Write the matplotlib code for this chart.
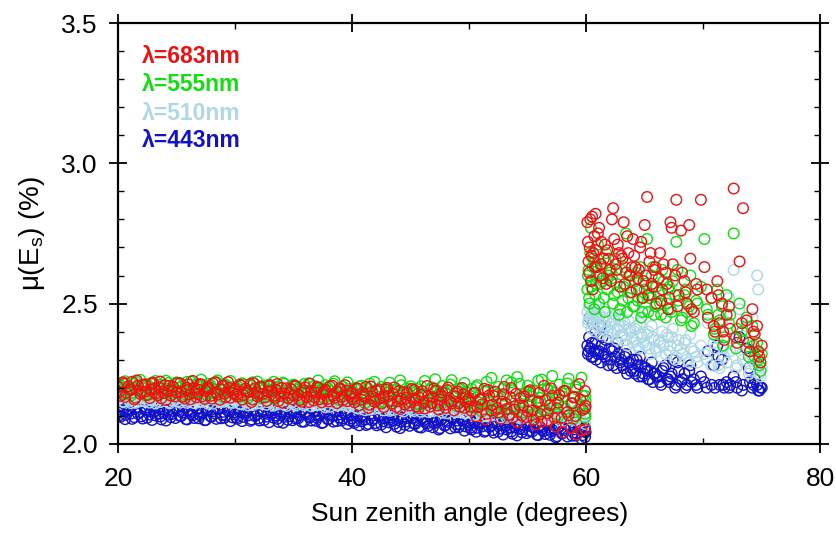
import matplotlib
matplotlib.use("Agg")
from matplotlib import pyplot as plt
from matplotlib.ticker import MultipleLocator

plt.rcParams['font.family'] = ['Liberation Sans', 'DejaVu Sans']

# sun zenith angles, below 60 deg (two passes)
angle_low = [
    20.0, 20.2, 20.5, 20.7, 21.0, 21.2, 21.5, 21.7, 22.0, 22.3,
    22.5, 22.8, 23.0, 23.2, 23.5, 23.7, 24.0, 24.3, 24.5, 24.7,
    25.0, 25.3, 25.5, 25.8, 26.0, 26.2, 26.5, 26.8, 27.0, 27.2,
    27.5, 27.7, 28.0, 28.3, 28.5, 28.8, 29.0, 29.2, 29.5, 29.8,
    30.0, 30.2, 30.5, 30.7, 31.0, 31.3, 31.5, 31.7, 32.0, 32.2,
    32.5, 32.8, 33.0, 33.3, 33.5, 33.7, 34.0, 34.2, 34.5, 34.8,
    35.0, 35.2, 35.5, 35.7, 36.0, 36.3, 36.5, 36.8, 37.0, 37.2,
    37.5, 37.7, 38.0, 38.3, 38.5, 38.7, 39.0, 39.2, 39.5, 39.8,
    40.0, 40.2, 40.5, 40.8, 41.0, 41.2, 41.5, 41.7, 42.0, 42.3,
    42.5, 42.7, 43.0, 43.2, 43.5, 43.8, 44.0, 44.2, 44.5, 44.7,
    45.0, 45.3, 45.5, 45.7, 46.0, 46.2, 46.5, 46.8, 47.0, 47.3,
    47.5, 47.7, 48.0, 48.2, 48.5, 48.8, 49.0, 49.2, 49.5, 49.7,
    50.0, 50.2, 50.5, 50.7, 51.0, 51.3, 51.5, 51.7, 52.0, 52.2,
    52.5, 52.8, 53.0, 53.2, 53.5, 53.7, 54.0, 54.3, 54.5, 54.7,
    55.0, 55.2, 55.5, 55.8, 56.0, 56.2, 56.5, 56.7, 57.0, 57.3,
    57.5, 57.7, 58.0, 58.2, 58.5, 58.8, 59.0, 59.2, 59.5, 59.7,
    59.9, 59.9, 59.95,
]
angle_low2 = [
    20.1, 20.4, 20.6, 20.9, 21.1, 21.4, 21.6, 21.9, 22.1, 22.4,
    22.7, 22.9, 23.1, 23.4, 23.6, 23.9, 24.1, 24.4, 24.6, 24.9,
    25.1, 25.4, 25.7, 25.9, 26.1, 26.4, 26.7, 26.9, 27.1, 27.4,
    27.6, 27.9, 28.1, 28.4, 28.7, 28.9, 29.1, 29.4, 29.6, 29.9,
    30.1, 30.4, 30.6, 30.9, 31.1, 31.4, 31.6, 31.9, 32.1, 32.4,
    32.7, 32.9, 33.1, 33.4, 33.6, 33.9, 34.1, 34.4, 34.6, 34.9,
    35.1, 35.4, 35.7, 35.9, 36.1, 36.4, 36.7, 36.9, 37.1, 37.4,
    37.6, 37.9, 38.1, 38.4, 38.7, 38.9, 39.1, 39.4, 39.6, 39.9,
    40.1, 40.4, 40.6, 40.9, 41.1, 41.4, 41.6, 41.9, 42.1, 42.4,
    42.7, 42.9, 43.1, 43.4, 43.6, 43.9, 44.1, 44.4, 44.6, 44.9,
    45.1, 45.4, 45.7, 45.9, 46.1, 46.4, 46.7, 46.9, 47.1, 47.4,
    47.6, 47.9, 48.1, 48.4, 48.7, 48.9, 49.1, 49.4, 49.6, 49.9,
    50.1, 50.4, 50.6, 50.9, 51.1, 51.4, 51.6, 51.9, 52.1, 52.4,
    52.7, 52.9, 53.1, 53.4, 53.6, 53.9, 54.1, 54.4, 54.6, 54.9,
    55.1, 55.4, 55.7, 55.9, 56.1, 56.4, 56.7, 56.9, 57.1, 57.4,
    57.6, 57.9, 58.1, 58.4, 58.7, 58.9, 59.1, 59.4, 59.6, 59.9,
]

# sun zenith angles, 60 deg and above (two passes)
angle_high = [
    60.1, 60.2, 60.3, 60.4, 60.5, 60.6, 60.8, 60.9, 61.0,
    61.2, 61.3, 61.5, 61.7, 61.8, 62.0,
    62.2, 62.3, 62.5, 62.7, 62.9, 63.0,
    63.2, 63.4, 63.6, 63.8, 64.0,
    64.2, 64.4, 64.6, 64.8, 65.0,
    65.2, 65.4, 65.6, 65.8, 66.0,
    66.3, 66.5, 66.8, 67.0,
    67.2, 67.4, 67.7, 67.9, 68.1,
    68.4, 68.6, 68.9, 69.2, 69.5, 69.8,
    70.1, 70.4, 70.7, 71.0,
    71.2, 71.4, 71.6, 71.8, 72.0,
    72.3, 72.6, 72.9, 73.1,
    73.4, 73.7, 74.0,
    74.2, 74.4, 74.6, 74.8, 75.0,
]
angle_high2 = [
    60.15, 60.25, 60.35, 60.45, 60.55, 60.7, 60.75, 60.85,
    61.1, 61.25, 61.4, 61.6, 61.9,
    62.1, 62.4, 62.6, 62.8,
    63.1, 63.3, 63.5, 63.7, 63.9,
    64.1, 64.3, 64.5, 64.7, 64.9,
    65.1, 65.3, 65.5, 65.7, 65.9,
    66.2, 66.4, 66.6, 66.9,
    67.1, 67.3, 67.6, 67.8,
    68.2, 68.5, 68.8, 69.0, 69.4,
    70.3, 70.9, 71.3, 71.7, 72.2, 72.8, 73.3, 73.9,
    74.3, 74.7, 74.9,
]

# mu(Es) in %, 683 nm
red_low = [
    2.203, 2.171, 2.214, 2.182, 2.195, 2.221, 2.164, 2.207, 2.186, 2.212,
    2.174, 2.193, 2.218, 2.179, 2.201, 2.162, 2.209, 2.188, 2.172, 2.204,
    2.183, 2.216, 2.168, 2.191, 2.211, 2.159, 2.198, 2.177, 2.213, 2.169,
    2.189, 2.202, 2.161, 2.219, 2.176, 2.194, 2.208, 2.166, 2.199, 2.181,
    2.196, 2.168, 2.207, 2.174, 2.189, 2.213, 2.158, 2.198, 2.181, 2.204,
    2.165, 2.187, 2.209, 2.171, 2.193, 2.152, 2.199, 2.179, 2.163, 2.194,
    2.172, 2.205, 2.156, 2.183, 2.201, 2.149, 2.188, 2.166, 2.203, 2.159,
    2.178, 2.192, 2.151, 2.207, 2.164, 2.185, 2.197, 2.155, 2.189, 2.170,
    2.182, 2.148, 2.196, 2.157, 2.174, 2.203, 2.139, 2.186, 2.163, 2.194,
    2.143, 2.171, 2.199, 2.152, 2.178, 2.131, 2.188, 2.161, 2.140, 2.181,
    2.149, 2.192, 2.133, 2.166, 2.187, 2.126, 2.171, 2.145, 2.197, 2.137,
    2.158, 2.183, 2.128, 2.201, 2.144, 2.169, 2.186, 2.131, 2.176, 2.151,
    2.163, 2.118, 2.182, 2.131, 2.157, 2.196, 2.107, 2.172, 2.139, 2.186,
    2.112, 2.151, 2.203, 2.124, 2.166, 2.093, 2.178, 2.137, 2.101, 2.169,
    2.116, 2.191, 2.086, 2.148, 2.182, 2.079, 2.155, 2.109, 2.198, 2.092,
    2.127, 2.174, 2.041, 2.189, 2.102, 2.144, 2.167, 2.033, 2.158, 2.121,
    2.188, 2.052, 2.135,
]
red_low2 = [
    2.184, 2.219, 2.167, 2.205, 2.192, 2.158, 2.226, 2.178, 2.210, 2.187,
    2.163, 2.214, 2.196, 2.173, 2.222, 2.181, 2.156, 2.207, 2.190, 2.169,
    2.217, 2.185, 2.161, 2.200, 2.176, 2.224, 2.166, 2.193, 2.211, 2.160,
    2.198, 2.171, 2.215, 2.183, 2.157, 2.206, 2.179, 2.220, 2.164, 2.191,
    2.175, 2.211, 2.158, 2.197, 2.184, 2.149, 2.216, 2.169, 2.202, 2.178,
    2.153, 2.205, 2.187, 2.164, 2.213, 2.171, 2.146, 2.198, 2.181, 2.159,
    2.207, 2.174, 2.150, 2.191, 2.166, 2.214, 2.155, 2.183, 2.200, 2.148,
    2.186, 2.160, 2.204, 2.172, 2.145, 2.195, 2.167, 2.209, 2.152, 2.179,
    2.159, 2.198, 2.137, 2.181, 2.167, 2.128, 2.204, 2.150, 2.189, 2.161,
    2.131, 2.193, 2.170, 2.143, 2.201, 2.152, 2.124, 2.184, 2.163, 2.137,
    2.195, 2.155, 2.127, 2.175, 2.146, 2.206, 2.133, 2.166, 2.188, 2.122,
    2.169, 2.139, 2.191, 2.150, 2.119, 2.180, 2.144, 2.199, 2.128, 2.158,
    2.132, 2.181, 2.098, 2.159, 2.141, 2.087, 2.192, 2.119, 2.170, 2.128,
    2.089, 2.177, 2.145, 2.104, 2.199, 2.122, 2.078, 2.163, 2.136, 2.095,
    2.185, 2.118, 2.069, 2.151, 2.106, 2.207, 2.083, 2.138, 2.171, 2.061,
    2.147, 2.092, 2.188, 2.113, 2.056, 2.165, 2.099, 2.213, 2.048, 2.126,
]
red_high = [
    2.79, 2.65, 2.70, 2.58, 2.81, 2.68, 2.82, 2.63, 2.75,
    2.60, 2.72, 2.66, 2.57, 2.69, 2.62,
    2.80, 2.84, 2.64, 2.71, 2.56, 2.67,
    2.79, 2.61, 2.68, 2.54, 2.73,
    2.63, 2.59, 2.70, 2.52, 2.78,
    2.88, 2.65, 2.57, 2.62, 2.50,
    2.68, 2.55, 2.61, 2.48,
    2.79, 2.64, 2.87, 2.53, 2.76,
    2.58, 2.50, 2.66, 2.47, 2.55, 2.87,
    2.63, 2.45, 2.52, 2.40,
    2.58, 2.43, 2.50, 2.37, 2.46,
    2.41, 2.91, 2.36, 2.65,
    2.84, 2.44, 2.33,
    2.48, 2.39, 2.42, 2.31, 2.35,
]
red_high2 = [
    2.72, 2.61, 2.80, 2.67, 2.55, 2.74, 2.63, 2.69,
    2.77, 2.64, 2.59, 2.71, 2.66,
    2.58, 2.73, 2.62, 2.68,
    2.66, 2.57, 2.74, 2.60, 2.63,
    2.67, 2.55, 2.62, 2.72, 2.58,
    2.60, 2.53, 2.68, 2.56, 2.63,
    2.59, 2.51, 2.64, 2.57,
    2.52, 2.77, 2.60, 2.49,
    2.61, 2.54, 2.78, 2.48, 2.57,
    2.55, 2.42, 2.53, 2.40, 2.49, 2.38, 2.43, 2.36,
    2.40, 2.33, 2.29,
]

# 555 nm
green_low = [
    2.188, 2.209, 2.176, 2.215, 2.197, 2.182, 2.221, 2.190, 2.204, 2.173,
    2.212, 2.185, 2.199, 2.224, 2.178, 2.206, 2.193, 2.217, 2.181, 2.201,
    2.219, 2.187, 2.208, 2.175, 2.196, 2.222, 2.183, 2.211, 2.190, 2.205,
    2.177, 2.214, 2.198, 2.186, 2.226, 2.192, 2.179, 2.210, 2.189, 2.203,
    2.181, 2.205, 2.168, 2.212, 2.190, 2.174, 2.219, 2.183, 2.199, 2.163,
    2.208, 2.177, 2.193, 2.221, 2.169, 2.201, 2.186, 2.214, 2.172, 2.196,
    2.211, 2.178, 2.203, 2.165, 2.189, 2.216, 2.174, 2.206, 2.182, 2.198,
    2.167, 2.209, 2.191, 2.176, 2.223, 2.184, 2.170, 2.204, 2.179, 2.195,
    2.168, 2.199, 2.154, 2.207, 2.178, 2.160, 2.214, 2.171, 2.191, 2.146,
    2.203, 2.163, 2.184, 2.218, 2.152, 2.195, 2.172, 2.209, 2.157, 2.187,
    2.205, 2.161, 2.196, 2.143, 2.179, 2.224, 2.156, 2.201, 2.168, 2.190,
    2.148, 2.206, 2.181, 2.159, 2.227, 2.170, 2.151, 2.198, 2.163, 2.185,
    2.157, 2.196, 2.131, 2.209, 2.163, 2.139, 2.221, 2.148, 2.184, 2.118,
    2.203, 2.142, 2.172, 2.226, 2.125, 2.191, 2.153, 2.214, 2.129, 2.178,
    2.207, 2.133, 2.189, 2.108, 2.164, 2.229, 2.121, 2.197, 2.141, 2.182,
    2.105, 2.211, 2.168, 2.124, 2.232, 2.146, 2.112, 2.193, 2.131, 2.172,
    2.171, 2.094, 2.152,
]
green_low2 = [
    2.206, 2.180, 2.223, 2.191, 2.172, 2.214, 2.199, 2.228, 2.184, 2.207,
    2.176, 2.218, 2.193, 2.171, 2.211, 2.187, 2.225, 2.198, 2.174, 2.216,
    2.189, 2.203, 2.170, 2.221, 2.194, 2.179, 2.213, 2.186, 2.229, 2.200,
    2.173, 2.209, 2.182, 2.220, 2.195, 2.168, 2.212, 2.188, 2.224, 2.177,
    2.199, 2.172, 2.216, 2.184, 2.163, 2.207, 2.191, 2.222, 2.176, 2.200,
    2.167, 2.211, 2.186, 2.160, 2.203, 2.179, 2.218, 2.190, 2.164, 2.208,
    2.181, 2.195, 2.158, 2.213, 2.185, 2.169, 2.205, 2.177, 2.226, 2.192,
    2.161, 2.201, 2.173, 2.214, 2.187, 2.156, 2.204, 2.180, 2.219, 2.166,
    2.186, 2.155, 2.204, 2.169, 2.145, 2.195, 2.177, 2.221, 2.158, 2.189,
    2.149, 2.200, 2.172, 2.141, 2.192, 2.163, 2.226, 2.179, 2.147, 2.197,
    2.166, 2.184, 2.138, 2.205, 2.170, 2.151, 2.193, 2.160, 2.230, 2.176,
    2.140, 2.188, 2.156, 2.211, 2.168, 2.135, 2.196, 2.161, 2.217, 2.145,
    2.171, 2.129, 2.202, 2.147, 2.115, 2.188, 2.158, 2.235, 2.121, 2.176,
    2.110, 2.196, 2.143, 2.103, 2.219, 2.134, 2.238, 2.164, 2.112, 2.185,
    2.139, 2.168, 2.098, 2.225, 2.151, 2.117, 2.192, 2.126, 2.242, 2.158,
    2.096, 2.181, 2.132, 2.215, 2.144, 2.089, 2.203, 2.122, 2.236, 2.107,
]
green_high = [
    2.55, 2.62, 2.50, 2.77, 2.58, 2.66, 2.53, 2.60, 2.71,
    2.57, 2.63, 2.52, 2.68, 2.55, 2.61,
    2.59, 2.50, 2.66, 2.54, 2.48, 2.62,
    2.56, 2.75, 2.52, 2.60, 2.49,
    2.58, 2.51, 2.63, 2.47, 2.55,
    2.73, 2.52, 2.60, 2.46, 2.56,
    2.50, 2.62, 2.45, 2.55,
    2.48, 2.58, 2.72, 2.51, 2.44,
    2.53, 2.47, 2.60, 2.43, 2.50, 2.56,
    2.73, 2.46, 2.52, 2.41,
    2.55, 2.44, 2.49, 2.38, 2.53,
    2.46, 2.75, 2.41, 2.50,
    2.37, 2.45, 2.33,
    2.42, 2.31, 2.36, 2.28, 2.32,
]
green_high2 = [
    2.60, 2.52, 2.68, 2.56, 2.63, 2.48, 2.65, 2.57,
    2.50, 2.64, 2.58, 2.47, 2.60,
    2.62, 2.53, 2.57, 2.46,
    2.51, 2.63, 2.47, 2.58, 2.54,
    2.49, 2.61, 2.55, 2.45, 2.52,
    2.57, 2.47, 2.53, 2.63, 2.49,
    2.54, 2.46, 2.58, 2.50,
    2.56, 2.47, 2.53, 2.62,
    2.45, 2.55, 2.49, 2.42, 2.51,
    2.48, 2.39, 2.46, 2.35, 2.43, 2.34, 2.40, 2.31,
    2.35, 2.30, 2.26,
]

# 510 nm
lblue_low = [
    2.158, 2.171, 2.149, 2.166, 2.153, 2.175, 2.146, 2.162, 2.169, 2.151,
    2.173, 2.156, 2.164, 2.144, 2.168, 2.159, 2.177, 2.148, 2.163, 2.155,
    2.170, 2.147, 2.161, 2.174, 2.152, 2.167, 2.145, 2.160, 2.172, 2.150,
    2.165, 2.143, 2.169, 2.157, 2.176, 2.149, 2.163, 2.154, 2.171, 2.146,
    2.152, 2.166, 2.141, 2.159, 2.147, 2.169, 2.138, 2.155, 2.163, 2.144,
    2.165, 2.149, 2.157, 2.136, 2.160, 2.151, 2.168, 2.139, 2.154, 2.146,
    2.161, 2.137, 2.152, 2.164, 2.142, 2.157, 2.134, 2.150, 2.162, 2.139,
    2.154, 2.131, 2.158, 2.145, 2.163, 2.136, 2.149, 2.141, 2.157, 2.133,
    2.138, 2.153, 2.126, 2.145, 2.131, 2.156, 2.122, 2.141, 2.149, 2.128,
    2.151, 2.133, 2.142, 2.118, 2.146, 2.135, 2.152, 2.121, 2.138, 2.129,
    2.144, 2.117, 2.135, 2.148, 2.123, 2.139, 2.114, 2.131, 2.143, 2.119,
    2.134, 2.111, 2.138, 2.124, 2.142, 2.113, 2.128, 2.119, 2.136, 2.109,
    2.116, 2.134, 2.102, 2.125, 2.109, 2.138, 2.098, 2.121, 2.129, 2.104,
    2.131, 2.108, 2.119, 2.093, 2.124, 2.111, 2.133, 2.096, 2.114, 2.103,
    2.122, 2.091, 2.109, 2.127, 2.097, 2.113, 2.087, 2.105, 2.119, 2.092,
    2.108, 2.084, 2.112, 2.098, 2.117, 2.086, 2.101, 2.093, 2.109, 2.081,
    2.142, 2.071, 2.095,
]
lblue_low2 = [
    2.166, 2.150, 2.174, 2.157, 2.145, 2.170, 2.161, 2.152, 2.176, 2.163,
    2.147, 2.168, 2.155, 2.173, 2.149, 2.160, 2.171, 2.144, 2.165, 2.158,
    2.151, 2.175, 2.162, 2.146, 2.169, 2.156, 2.172, 2.148, 2.164, 2.153,
    2.177, 2.159, 2.143, 2.167, 2.154, 2.170, 2.150, 2.163, 2.147, 2.174,
    2.158, 2.142, 2.167, 2.150, 2.137, 2.162, 2.153, 2.144, 2.168, 2.155,
    2.139, 2.160, 2.147, 2.165, 2.141, 2.151, 2.163, 2.135, 2.156, 2.149,
    2.142, 2.166, 2.153, 2.137, 2.159, 2.146, 2.162, 2.138, 2.154, 2.143,
    2.165, 2.148, 2.132, 2.156, 2.143, 2.160, 2.139, 2.151, 2.135, 2.158,
    2.141, 2.127, 2.152, 2.134, 2.120, 2.146, 2.137, 2.125, 2.150, 2.136,
    2.119, 2.143, 2.129, 2.147, 2.121, 2.132, 2.144, 2.115, 2.138, 2.128,
    2.121, 2.145, 2.131, 2.114, 2.137, 2.124, 2.140, 2.116, 2.133, 2.120,
    2.142, 2.125, 2.109, 2.134, 2.118, 2.137, 2.113, 2.127, 2.110, 2.131,
    2.121, 2.103, 2.132, 2.112, 2.097, 2.126, 2.115, 2.101, 2.129, 2.113,
    2.094, 2.122, 2.107, 2.127, 2.098, 2.110, 2.123, 2.090, 2.116, 2.104,
    2.095, 2.120, 2.106, 2.087, 2.114, 2.099, 2.118, 2.089, 2.108, 2.094,
    2.117, 2.098, 2.082, 2.109, 2.091, 2.113, 2.085, 2.101, 2.080, 2.104,
]
lblue_high = [
    2.47, 2.44, 2.50, 2.46, 2.43, 2.48, 2.45, 2.49, 2.42,
    2.46, 2.41, 2.48, 2.44, 2.40, 2.45,
    2.43, 2.39, 2.46, 2.41, 2.44, 2.38,
    2.42, 2.37, 2.44, 2.40, 2.36,
    2.41, 2.35, 2.43, 2.38, 2.47,
    2.39, 2.34, 2.42, 2.37, 2.33,
    2.36, 2.40, 2.32, 2.38,
    2.35, 2.41, 2.31, 2.37, 2.34,
    2.36, 2.30, 2.39, 2.33, 2.29, 2.35,
    2.32, 2.43, 2.28, 2.34,
    2.38, 2.27, 2.44, 2.31, 2.29,
    2.33, 2.62, 2.28, 2.48,
    2.30, 2.42, 2.26,
    2.45, 2.28, 2.60, 2.25, 2.27,
]
lblue_high2 = [
    2.43, 2.49, 2.45, 2.41, 2.47, 2.44, 2.40, 2.46,
    2.43, 2.39, 2.45, 2.42, 2.38,
    2.40, 2.44, 2.37, 2.42,
    2.39, 2.43, 2.35, 2.41, 2.38,
    2.37, 2.42, 2.34, 2.39, 2.36,
    2.35, 2.40, 2.32, 2.38, 2.34,
    2.37, 2.31, 2.35, 2.39,
    2.33, 2.38, 2.30, 2.35,
    2.32, 2.37, 2.29, 2.34, 2.31,
    2.30, 2.36, 2.28, 2.34, 2.52, 2.27, 2.32, 2.25,
    2.30, 2.55, 2.24,
]

# 443 nm
blue_low = [
    2.112, 2.096, 2.124, 2.103, 2.118, 2.089, 2.127, 2.107, 2.098, 2.121,
    2.093, 2.115, 2.129, 2.101, 2.109, 2.087, 2.122, 2.104, 2.095, 2.117,
    2.126, 2.099, 2.111, 2.088, 2.119, 2.106, 2.092, 2.123, 2.102, 2.113,
    2.085, 2.120, 2.097, 2.108, 2.125, 2.091, 2.114, 2.100, 2.118, 2.094,
    2.105, 2.089, 2.117, 2.096, 2.111, 2.082, 2.120, 2.099, 2.090, 2.113,
    2.085, 2.107, 2.121, 2.093, 2.101, 2.078, 2.114, 2.096, 2.086, 2.109,
    2.117, 2.090, 2.102, 2.079, 2.110, 2.097, 2.083, 2.114, 2.093, 2.104,
    2.076, 2.111, 2.088, 2.099, 2.116, 2.081, 2.105, 2.091, 2.108, 2.084,
    2.091, 2.074, 2.103, 2.081, 2.096, 2.067, 2.105, 2.084, 2.074, 2.098,
    2.069, 2.091, 2.104, 2.076, 2.085, 2.061, 2.097, 2.079, 2.068, 2.092,
    2.099, 2.072, 2.084, 2.060, 2.091, 2.078, 2.064, 2.095, 2.073, 2.084,
    2.056, 2.090, 2.067, 2.078, 2.094, 2.059, 2.083, 2.069, 2.086, 2.062,
    2.068, 2.051, 2.079, 2.057, 2.072, 2.043, 2.081, 2.060, 2.049, 2.074,
    2.044, 2.066, 2.078, 2.051, 2.059, 2.036, 2.071, 2.053, 2.041, 2.065,
    2.072, 2.045, 2.057, 2.032, 2.063, 2.050, 2.035, 2.067, 2.044, 2.055,
    2.027, 2.061, 2.038, 2.049, 2.064, 2.029, 2.052, 2.037, 2.056, 2.031,
    2.058, 2.024, 2.041,
]
blue_low2 = [
    2.101, 2.119, 2.088, 2.126, 2.108, 2.095, 2.131, 2.113, 2.090, 2.122,
    2.104, 2.085, 2.117, 2.128, 2.097, 2.110, 2.083, 2.124, 2.106, 2.092,
    2.120, 2.099, 2.130, 2.087, 2.114, 2.102, 2.125, 2.091, 2.109, 2.084,
    2.121, 2.098, 2.116, 2.089, 2.127, 2.103, 2.093, 2.118, 2.081, 2.112,
    2.094, 2.112, 2.081, 2.119, 2.101, 2.087, 2.123, 2.106, 2.083, 2.115,
    2.097, 2.077, 2.110, 2.120, 2.089, 2.103, 2.075, 2.116, 2.098, 2.084,
    2.112, 2.091, 2.121, 2.079, 2.106, 2.094, 2.117, 2.082, 2.100, 2.074,
    2.111, 2.088, 2.106, 2.079, 2.117, 2.093, 2.083, 2.108, 2.071, 2.101,
    2.080, 2.098, 2.066, 2.104, 2.086, 2.071, 2.107, 2.090, 2.066, 2.098,
    2.080, 2.059, 2.092, 2.102, 2.071, 2.085, 2.056, 2.097, 2.079, 2.064,
    2.092, 2.071, 2.100, 2.058, 2.085, 2.073, 2.095, 2.059, 2.078, 2.051,
    2.088, 2.065, 2.083, 2.055, 2.093, 2.069, 2.059, 2.084, 2.047, 2.076,
    2.057, 2.075, 2.043, 2.081, 2.062, 2.047, 2.083, 2.065, 2.040, 2.072,
    2.054, 2.033, 2.066, 2.076, 2.044, 2.058, 2.030, 2.070, 2.052, 2.038,
    2.065, 2.044, 2.073, 2.031, 2.058, 2.046, 2.067, 2.032, 2.050, 2.023,
    2.060, 2.037, 2.054, 2.026, 2.063, 2.040, 2.029, 2.055, 2.018, 2.046,
]
blue_high = [
    2.35, 2.33, 2.45, 2.34, 2.36, 2.31, 2.40, 2.33, 2.32,
    2.42, 2.35, 2.32, 2.37, 2.30, 2.34,
    2.33, 2.28, 2.31, 2.36, 2.29, 2.30,
    2.27, 2.32, 2.29, 2.26, 2.30,
    2.25, 2.28, 2.31, 2.24, 2.27,
    2.26, 2.23, 2.29, 2.25, 2.24,
    2.22, 2.26, 2.28, 2.23,
    2.24, 2.30, 2.21, 2.26, 2.22,
    2.25, 2.21, 2.28, 2.23, 2.20, 2.24,
    2.22, 2.33, 2.21, 2.20,
    2.35, 2.21, 2.30, 2.20, 2.22,
    2.21, 2.24, 2.20, 2.38,
    2.21, 2.34, 2.22,
    2.20, 2.23, 2.21, 2.19, 2.20,
]
blue_high2 = [
    2.32, 2.38, 2.34, 2.31, 2.43, 2.33, 2.36, 2.30,
    2.33, 2.29, 2.38, 2.31, 2.28,
    2.30, 2.34, 2.27, 2.32,
    2.28, 2.31, 2.25, 2.29, 2.27,
    2.26, 2.30, 2.24, 2.28, 2.25,
    2.27, 2.23, 2.26, 2.22, 2.25,
    2.24, 2.21, 2.27, 2.23,
    2.22, 2.25, 2.20, 2.29,
    2.23, 2.20, 2.26, 2.22, 2.21,
    2.20, 2.28, 2.31, 2.21, 2.20, 2.22, 2.19, 2.27,
    2.21, 2.19, 2.20,
]

labels = ["λ=683nm", "λ=555nm", "λ=510nm", "λ=443nm"]
colors = ["#ee1111", "#11dd11", "#add8e6", "#1111cc"]

fig = plt.figure(figsize=(8.37, 5.36), dpi=100)
ax = fig.add_axes([0.141, 0.172, 0.839, 0.785])

angles = angle_low + angle_low2 + angle_high + angle_high2
series = [
    (blue_low + blue_low2 + blue_high + blue_high2, colors[3]),
    (lblue_low + lblue_low2 + lblue_high + lblue_high2, colors[2]),
    (green_low + green_low2 + green_high + green_high2, colors[1]),
    (red_low + red_low2 + red_high + red_high2, colors[0]),
]
for vals, c in series:
    ax.scatter(angles, vals, s=58, facecolors='none', edgecolors=c,
               linewidths=1.0)

ax.set_xlim(20, 80)
ax.set_ylim(2.0, 3.5)
ax.xaxis.set_major_locator(MultipleLocator(20))
ax.xaxis.set_minor_locator(MultipleLocator(10))
ax.yaxis.set_major_locator(MultipleLocator(0.5))
ax.yaxis.set_minor_locator(MultipleLocator(0.1))
ax.yaxis.set_major_formatter(plt.FormatStrFormatter('%.1f'))
ax.tick_params(which='major', direction='inout', length=13, width=1.3,
               top=True, right=True, labelsize=19)
ax.tick_params(axis='x', which='major', pad=10)
ax.tick_params(axis='y', which='major', pad=8)
ax.tick_params(which='minor', direction='in', length=4, width=1.0,
               top=True, right=True)
for sp in ax.spines.values():
    sp.set_linewidth(1.6)

ax.set_xlabel("Sun zenith angle (degrees)", fontsize=19, labelpad=8)
ax.set_ylabel("μ(E$_{\\mathregular{s}}$) (%)", fontsize=20, labelpad=10)

ypos = [0.920, 0.853, 0.786, 0.722]
for lab, c, yy in zip(labels, colors, ypos):
    ax.text(0.034, yy, lab, color=c, fontsize=16.5, fontweight='bold',
            transform=ax.transAxes, va='center', ha='left')

fig.savefig("out.png", dpi=100)
